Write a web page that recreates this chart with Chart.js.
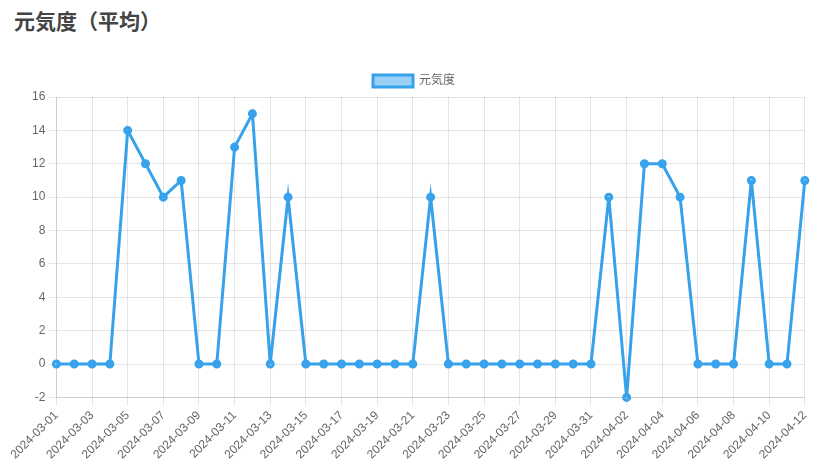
<!DOCTYPE html>
<html lang="ja">
<head>
<meta charset="utf-8">
<script src="https://cdn.jsdelivr.net/npm/chart.js@4"></script>
<style>
  body { margin: 0; background: #fff; font-family: "Noto Sans CJK JP", "Noto Sans", sans-serif; }
  .title { position: absolute; left: 14px; top: 5px; margin: 0; font-size: 21px; font-weight: bold; color: #444; }
  .chart-box { position: absolute; left: 10px; top: 65px; width: 808px; height: 400px; }
</style>
</head>
<body>
<h2 class="title">元気度（平均）</h2>
<div class="chart-box"><canvas id="genkiChart"></canvas></div>
<script>
// dates 2024-03-01 .. 2024-04-12
const dates = [
  '2024-03-01', '2024-03-02', '2024-03-03', '2024-03-04', '2024-03-05', '2024-03-06',
  '2024-03-07', '2024-03-08', '2024-03-09', '2024-03-10', '2024-03-11', '2024-03-12',
  '2024-03-13', '2024-03-14', '2024-03-15', '2024-03-16', '2024-03-17', '2024-03-18',
  '2024-03-19', '2024-03-20', '2024-03-21', '2024-03-22', '2024-03-23', '2024-03-24',
  '2024-03-25', '2024-03-26', '2024-03-27', '2024-03-28', '2024-03-29', '2024-03-30',
  '2024-03-31', '2024-04-01', '2024-04-02', '2024-04-03', '2024-04-04', '2024-04-05',
  '2024-04-06', '2024-04-07', '2024-04-08', '2024-04-09', '2024-04-10', '2024-04-11',
  '2024-04-12'
];
const genkiValues = [
  0, 0, 0, 0, 14, 12,
  10, 11, 0, 0, 13, 15,
  0, 10, 0, 0, 0, 0,
  0, 0, 0, 10, 0, 0,
  0, 0, 0, 0, 0, 0,
  0, 10, -2, 12, 12, 10,
  0, 0, 0, 11, 0, 0,
  11
];
const seriesLabel = '元気度';

Chart.defaults.font.family = 'Arial, "Liberation Sans", "Noto Sans CJK JP", sans-serif';

const ctx = document.getElementById('genkiChart').getContext('2d');
new Chart(ctx, {
  type: 'line',
  data: {
    labels: dates,
    datasets: [{
      label: seriesLabel,
      data: genkiValues,
      borderColor: '#36A2EB',
      backgroundColor: 'rgba(54,162,235,0.5)',
      borderWidth: 3,
      pointRadius: 3,
      tension: 0
    }]
  },
  options: {
    responsive: true,
    maintainAspectRatio: false,
    animation: false,
    plugins: {
      legend: { display: true }
    },
    scales: {
      x: {
        ticks: { minRotation: 45, maxRotation: 45 }
      }
    }
  }
});
</script>
</body>
</html>
